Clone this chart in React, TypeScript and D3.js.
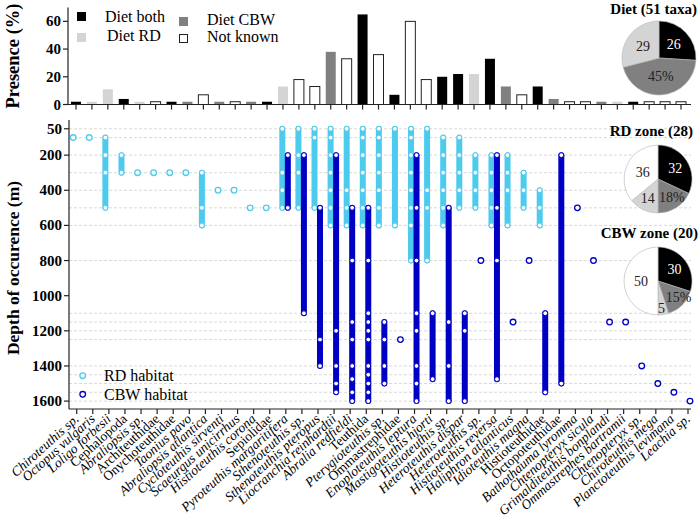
import React from 'react';
import * as d3 from 'd3';

const taxa = [
  'Chiroteuthis sp.', 'Octopus vulgaris', 'Loligo forbesii', 'Cephalopoda', 'Abraliopsis sp.',
  'Architeuthidae', 'Onychoteuthidae', 'Taonius pavo', 'Abraliopsis atlantica', 'Cycloteuthis sirventi',
  'Scaeurgus unicirrhus', 'Histioteuthis corona', 'Sepiolidae', 'Pyroteuthis margaritifera', 'Sthenoteuthis sp.',
  'Sthenoteuthis pteropus', 'Liocranchia reinhardtii', 'Abralia redfieldi', 'Teuthida', 'Pterygioteuthis sp.',
  'Ommastrephidae', 'Enoploteuthis leptura', 'Mastigoteuthis hjorti', 'Histioteuthis sp.', 'Heteroteuthis dispar',
  'Heteroteuthis sp.', 'Histioteuthis reversa', 'Haliphron atlanticus', 'Idioteuthis magna', 'Histioteuthidae',
  'Octopoteuthidae', 'Bathothauma lyromma', 'Chtenopteryx sicula', 'Grimalditeuthis bonplandi', 'Ommastrephes bartramii',
  'Chtenopteryx sp.', 'Chiroteuthis mega', 'Planctoteuthis levimana', 'Leachia sp.',
];

// names written upright (higher taxa)
const upright = ['Cephalopoda', 'Architeuthidae', 'Onychoteuthidae', 'Sepiolidae', 'Teuthida', 'Ommastrephidae', 'Histioteuthidae', 'Octopoteuthidae'];

const presence = [
  2, 2, 11, 4, 2, 2, 2, 2, 7, 2,
  2, 2, 2, 13, 18, 13, 38, 33, 65, 36,
  7, 60, 18, 20, 22, 22, 33, 13, 7, 13,
  4, 2, 2, 2, 2, 2, 2, 2, 2,
];

// b = diet both, r = diet RD, c = diet CBW, n = not known
const diet = [
  'b', 'r', 'r', 'b', 'r', 'n', 'b', 'c', 'n', 'c',
  'n', 'c', 'b', 'r', 'n', 'n', 'c', 'n', 'b', 'n',
  'b', 'n', 'n', 'b', 'b', 'r', 'b', 'c', 'n', 'b',
  'c', 'n', 'n', 'c', 'r', 'b', 'n', 'n', 'n',
];

const rdDepths = [
  [100], [100], [100, 200, 300, 500], [200, 300], [300],
  [300], [300], [300], [300, 500, 600], [400],
  [400], [500], [500], [50, 300, 400, 500], [50, 200, 300, 500],
  [50, 100, 500], [50, 100, 200, 300, 400, 500, 600], [50, 400, 500, 600], [50, 100, 200, 300, 400, 500, 600], [50, 100, 200, 300, 400, 500, 600],
  [50, 600], [50, 100, 200, 300, 400, 500, 600, 800], [50, 400, 500, 800], [100, 200, 300, 400, 500, 600], [100, 200, 300, 400, 500],
  [200, 300, 400, 500], [200, 300, 400, 500, 600], [200, 300, 400, 600], [300, 400, 500], [400, 500, 600],
  [], [], [], [], [],
  [], [], [], [],
];

const cbwDepths = [
  [], [], [], [], [],
  [], [], [], [], [],
  [], [], [], [200, 500], [200, 1100],
  [500, 1250, 1400], [200, 1200, 1400, 1500, 1550], [500, 800, 1150, 1250, 1400, 1475, 1550, 1600], [500, 800, 1100, 1150, 1200, 1250, 1400, 1450, 1500, 1550, 1600], [1150, 1250, 1400, 1500],
  [1250], [200, 500, 800, 1100, 1200, 1400, 1500, 1600], [1100, 1475], [500, 1150, 1400, 1600], [1100, 1200, 1600],
  [800], [200, 500, 800, 1475], [1150], [800], [1100, 1550],
  [200, 1500], [500], [800], [1150], [1150],
  [1400], [1500], [1550], [1600],
];

const presenceTicks = [0, 20, 40, 60];
const depthTicks = [50, 200, 400, 600, 800, 1000, 1200, 1400, 1600];
const depthGrid = [50, 100, 200, 300, 400, 500, 600, 800, 1100, 1150, 1200, 1250, 1400, 1450, 1500, 1550, 1600];

const dietPie = [26, 45, 29];
const dietPieCats = ['b', 'c', 'r'];
const dietPieLabels = ['26', '45%', '29'];
const rdPie = [32, 18, 14, 36];
const rdPieLabels = ['32', '18%', '14', '36'];
const cbwPie = [30, 15, 5, 50];
const cbwPieLabels = ['30', '15%', '5', '50'];
const zonePieCats = ['b', 'c', 'r', 'n'];

const fillOf: Record<string, string> = { b: '#000000', r: '#d4d4d4', c: '#808080', n: '#ffffff' };
const RD = '#4ccbef';
const CBW = '#0000c4';
const FONT = '"Liberation Serif", "Times New Roman", serif';

const xTop = d3.scalePoint<string>().domain(taxa).range([76, 681]);
const xBot = d3.scalePoint<string>().domain(taxa).range([76.7, 688]);
const yTop = d3.scaleLinear().domain([0, 70]).range([104.5, 7.5]);
const yBot = d3.scaleLinear().domain([0, 1645]).range([120, 409]);

// labelR: label radius as a share of the pie radius; labelRot: small turn (radians) off the slice middle
const Pie = ({ values, cats, cx, cy, r, title, titleX, titleY, labels, labelR, labelRot }: any) => {
  const arcs = d3.pie<number>().sort(null)(values);
  const arc = d3.arc<any>().innerRadius(0).outerRadius(r);
  return (
    <g>
      <text x={titleX} y={titleY} textAnchor="end" fontWeight="bold" fontSize={15} fontFamily={FONT}>{title}</text>
      <g transform={`translate(${cx},${cy})`}>
        {arcs.map((a, i) => (
          <path key={i} d={arc(a) || ''} fill={fillOf[cats[i]]} stroke="#b4b4b4" strokeWidth={0.6} />
        ))}
        {arcs.map((a, i) => {
          const lr = r * labelR[i];
          const ang = (a.startAngle + a.endAngle) / 2 + (labelRot ? labelRot[i] : 0);
          const lx = Math.sin(ang) * lr;
          const ly = -Math.cos(ang) * lr;
          return (
            <text key={'t' + i} x={lx} y={ly + 5} textAnchor="middle" fontSize={14} fontFamily={FONT}
              fill={cats[i] === 'b' ? '#fff' : '#222'}>{labels[i]}</text>
          );
        })}
      </g>
    </g>
  );
};

const App = () => {
  const barW = 10;
  return (
    <svg width={700} height={531} style={{ position: 'absolute', left: 0, top: 0, background: '#fff' }}>
      {/* top panel: presence */}
      {taxa.map((t, i) => (
        <rect key={t} x={xTop(t)! - barW / 2} y={yTop(presence[i])} width={barW}
          height={yTop(0) - yTop(presence[i])} fill={fillOf[diet[i]]}
          stroke={diet[i] === 'n' ? '#222' : 'none'} strokeWidth={1} />
      ))}
      <line x1={68} x2={68} y1={yTop(70)} y2={yTop(0)} stroke="#222" strokeWidth={1.2} />
      <line x1={68} x2={691} y1={yTop(0)} y2={yTop(0)} stroke="#222" strokeWidth={1.2} />
      {presenceTicks.map(v => (
        <g key={v}>
          <line x1={63} x2={68} y1={yTop(v)} y2={yTop(v)} stroke="#222" strokeWidth={1.2} />
          <text x={61} y={yTop(v) + 5} textAnchor="end" fontWeight="bold" fontSize={15} fontFamily={FONT}>{v}</text>
        </g>
      ))}
      {taxa.map(t => (
        <line key={'tt' + t} x1={xTop(t)} x2={xTop(t)} y1={yTop(0)} y2={yTop(0) + 5} stroke="#222" strokeWidth={1.2} />
      ))}
      <text transform={`translate(19,${56}) rotate(-90)`} textAnchor="middle" fontWeight="bold" fontSize={18.5} fontFamily={FONT}>Presence (%)</text>

      {/* top legend */}
      <rect x={77} y={12} width={9} height={9} fill={fillOf.b} />
      <text x={105} y={22} fontSize={16} fontFamily={FONT}>Diet both</text>
      <rect x={77} y={33} width={9} height={9} fill={fillOf.r} />
      <text x={107} y={41} fontSize={16} fontFamily={FONT}>Diet RD</text>
      <rect x={179} y={17} width={9} height={9} fill={fillOf.c} />
      <text x={207} y={25} fontSize={16} fontFamily={FONT}>Diet CBW</text>
      <rect x={179.5} y={34.5} width={8} height={8} fill="#fff" stroke="#222" strokeWidth={1} />
      <text x={207} y={42} fontSize={16} fontFamily={FONT}>Not known</text>

      {/* bottom panel: depth */}
      {depthGrid.map(d => (
        <line key={'g' + d} x1={69} x2={691} y1={yBot(d)} y2={yBot(d)} stroke="#cfcfcf" strokeWidth={0.8} strokeDasharray="3,2" />
      ))}
      <line x1={69} x2={69} y1={yBot(0)} y2={yBot(1645)} stroke="#222" strokeWidth={1.2} />
      <line x1={69} x2={691} y1={yBot(1645)} y2={yBot(1645)} stroke="#222" strokeWidth={1.2} />
      {depthTicks.map(v => (
        <g key={'d' + v}>
          <line x1={64} x2={69} y1={yBot(v)} y2={yBot(v)} stroke="#222" strokeWidth={1.2} />
          <text x={62} y={yBot(v) + 5} textAnchor="end" fontWeight="bold" fontSize={15} fontFamily={FONT}>{v}</text>
        </g>
      ))}
      {taxa.map(t => (
        <line key={'bt' + t} x1={xBot(t)} x2={xBot(t)} y1={yBot(1645)} y2={yBot(1645) + 5} stroke="#222" strokeWidth={1.2} />
      ))}
      <text transform={`translate(19,${268}) rotate(-90)`} textAnchor="middle" fontWeight="bold" fontSize={17.5} fontFamily={FONT}>Depth of occurence (m)</text>

      {[{ data: rdDepths, color: RD, dx: -3.5 }, { data: cbwDepths, color: CBW, dx: 2 }].map((s, si) => (
        <g key={'s' + si}>
          {taxa.map((t, i) => {
            const ds = s.data[i];
            if (!ds.length) return null;
            const cx = xBot(t)! + s.dx;
            const lo = d3.min(ds)!;
            const hi = d3.max(ds)!;
            return (
              <g key={t}>
                {ds.length > 1 && (
                  <line x1={cx} x2={cx} y1={yBot(lo)} y2={yBot(hi)} stroke={s.color} strokeWidth={6} strokeLinecap="round" />
                )}
                {ds.map(d => (
                  <circle key={d} cx={cx} cy={yBot(d)} r={ds.length > 1 ? 2.4 : 2.8} fill="#fff" stroke={s.color}
                    strokeWidth={ds.length > 1 ? 1 : 1.3} />
                ))}
              </g>
            );
          })}
        </g>
      ))}

      {/* bottom legend */}
      <circle cx={82.7} cy={375.7} r={2.8} fill="#fff" stroke={RD} strokeWidth={1.3} />
      <text x={104} y={381} fontSize={16} fontFamily={FONT}>RD habitat</text>
      <circle cx={82.7} cy={394.3} r={2.8} fill="#fff" stroke={CBW} strokeWidth={1.3} />
      <text x={104} y={400} fontSize={16} fontFamily={FONT}>CBW habitat</text>

      {/* taxa labels */}
      {taxa.map(t => (
        <text key={'l' + t} transform={`translate(${xBot(t)! + 3},${420}) rotate(-42)`} textAnchor="end"
          fontSize={13.5} fontFamily={FONT} fontStyle={upright.includes(t) ? 'normal' : 'italic'}>{t}</text>
      ))}

      {/* pies */}
      <Pie values={dietPie} cats={dietPieCats} cx={659} cy={58} r={37} title="Diet (51 taxa)" titleX={697} titleY={14}
        labels={dietPieLabels} labelR={[0.55, 0.5, 0.55]} />
      <Pie values={rdPie} cats={zonePieCats} cx={658} cy={179} r={34} title="RD zone (28)" titleX={693} titleY={136}
        labels={rdPieLabels} labelR={[0.6, 0.68, 0.64, 0.5]} labelRot={[0, -0.08, 0.05, 0]} />
      <Pie values={cbwPie} cats={zonePieCats} cx={658} cy={281} r={34} title="CBW zone (20)" titleX={698} titleY={238}
        labels={cbwPieLabels} labelR={[0.6, 0.76, 0.8, 0.5]} labelRot={[0, -0.14, 0.03, 0]} />
    </svg>
  );
};

export default App;
